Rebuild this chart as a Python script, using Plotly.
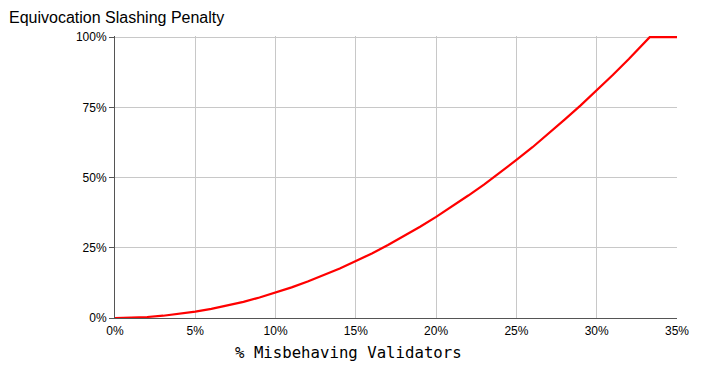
import plotly.graph_objects as go

x_pct = [0, 1, 2, 3, 4, 5, 6, 7, 8, 9, 10, 11, 12, 13, 14, 15, 16, 17, 18, 19, 20,
         21, 22, 23, 24, 25, 26, 27, 28, 29, 30, 31, 32, 33, 33.3, 34, 35]
penalty_pct = [0, 0.09, 0.36, 0.81, 1.44, 2.25, 3.24, 4.41, 5.76, 7.29, 9.0, 10.9, 13.0,
               15.2, 17.6, 20.3, 23.0, 26.0, 29.2, 32.5, 36.0, 39.7, 43.6, 47.6, 51.8,
               56.3, 60.8, 65.6, 70.6, 75.7, 81.0, 86.5, 92.2, 98.0, 100, 100, 100]
x_ticks = [0, 5, 10, 15, 20, 25, 30, 35]
x_labels = ["0%", "5%", "10%", "15%", "20%", "25%", "30%", "35%"]
y_ticks = [0, 25, 50, 75, 100]
y_labels = ["0%", "25%", "50%", "75%", "100%"]

fig = go.Figure()
fig.add_trace(go.Scatter(x=x_pct, y=penalty_pct, mode="lines", cliponaxis=False,
                         line=dict(color="#ff0000", width=2.2),
                         hoverinfo="skip"))

font = "Liberation Sans, Arial, sans-serif"
fig.update_layout(
    width=695, height=358,
    margin=dict(l=107, r=26, t=28, b=48, autoexpand=False),
    paper_bgcolor="white", plot_bgcolor="white",
    showlegend=False,
    font=dict(family=font, size=12, color="black"),
    xaxis=dict(range=[0, 35], tickvals=x_ticks, ticktext=x_labels,
               showgrid=True, gridcolor="#c8c8c8", gridwidth=1,
               showline=True, linecolor="#555555", linewidth=1,
               ticks="", zeroline=False, fixedrange=True, automargin=False,
               ticklabelstandoff=2,
               tickfont=dict(family=font, size=12, color="black")),
    yaxis=dict(range=[0, 100.4], tickvals=y_ticks, ticktext=y_labels,
               showgrid=True, gridcolor="#c8c8c8", gridwidth=1,
               showline=True, linecolor="#555555", linewidth=1,
               ticks="outside", ticklen=5, tickcolor="#555555",
               zeroline=False, fixedrange=True, automargin=False,
               tickfont=dict(family=font, size=12, color="black")),
    annotations=[
        dict(text="Equivocation Slashing Penalty", xref="paper", yref="paper",
             x=-108/562, y=1 + 19/282, xanchor="left", yanchor="middle",
             showarrow=False, font=dict(family=font, size=16, color="black")),
        dict(text="% Misbehaving Validators", xref="paper", yref="paper",
             x=(340 - 107)/562, y=-34/282, xanchor="center", yanchor="middle",
             showarrow=False,
             font=dict(family="DejaVu Sans Mono, monospace", size=15.7, color="black")),
    ],
)
fig.write_html("out.html")
